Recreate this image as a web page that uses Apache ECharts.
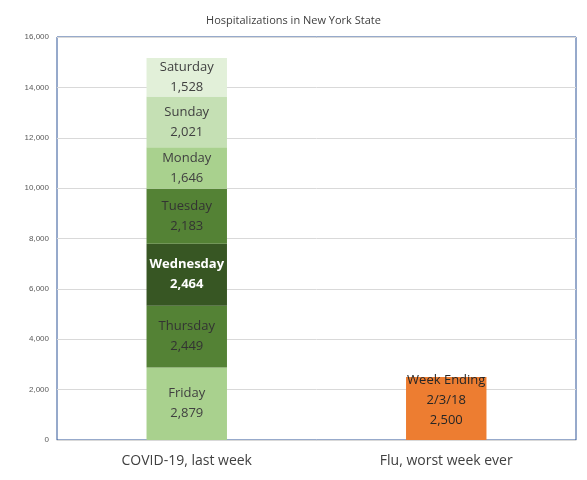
<!DOCTYPE html><html><head><meta charset="utf-8"><script src="https://cdn.jsdelivr.net/npm/echarts@6/dist/echarts.min.js"></script></head><body style="margin:0"><div id="c" style="width:587px;height:480px"></div><script>
var categories=["COVID-19, last week","Flu, worst week ever"];
var days=["Friday","Thursday","Wednesday","Tuesday","Monday","Sunday","Saturday"];
var dayValues=[2879,2449,2464,2183,1646,2021,1528];
var fluValue=2500;
var fluLabel="Week Ending\n2/3/18";
var colors=["#a9d18e","#548235","#375623","#548235","#a9d18e","#c5e0b4","#e2f0d9"];
var textColors=["#404040","#333333","#ffffff","#333333","#404040","#404040","#404040"];
var series=days.map(function(d,i){return {name:d,type:'bar',stack:'s',barWidth:'31%',data:[dayValues[i],null],
itemStyle:{color:colors[i]},label:{show:true,position:'inside',formatter:function(p){return d+"\n"+p.value.toLocaleString('en-US');},
color:textColors[i],fontSize:13,lineHeight:20,fontWeight:i==2?'bold':'normal',fontFamily:'Open Sans'}};});
series.push({name:'Flu',type:'bar',stack:'s',data:[null,fluValue],itemStyle:{color:'#ed7d31'},
label:{show:true,position:'insideTop',offset:[0,-12],formatter:function(p){return fluLabel+"\n"+p.value.toLocaleString('en-US');},color:'#262626',fontSize:13,lineHeight:20,fontFamily:'Open Sans'}});
var ch=echarts.init(document.getElementById('c'));
ch.setOption({animation:false,
title:{text:'Hospitalizations in New York State',left:'center',top:10,textStyle:{fontSize:11,fontWeight:'normal',color:'#404040',fontFamily:'Open Sans'}},
grid:{left:57,right:11,top:37,bottom:40,show:true,borderColor:'#2f5597',borderWidth:1},
xAxis:{type:'category',data:categories,axisTick:{show:false},axisLine:{lineStyle:{color:'#d9d9d9'}},axisLabel:{fontSize:14,color:'#404040',margin:14,fontFamily:'Open Sans'}},
yAxis:{type:'value',min:0,max:16000,interval:2000,axisLabel:{fontSize:8,color:'#595959',formatter:function(v){return v.toLocaleString('en-US');}},splitLine:{lineStyle:{color:'#d9d9d9'}}},
series:series});
</script></body></html>
